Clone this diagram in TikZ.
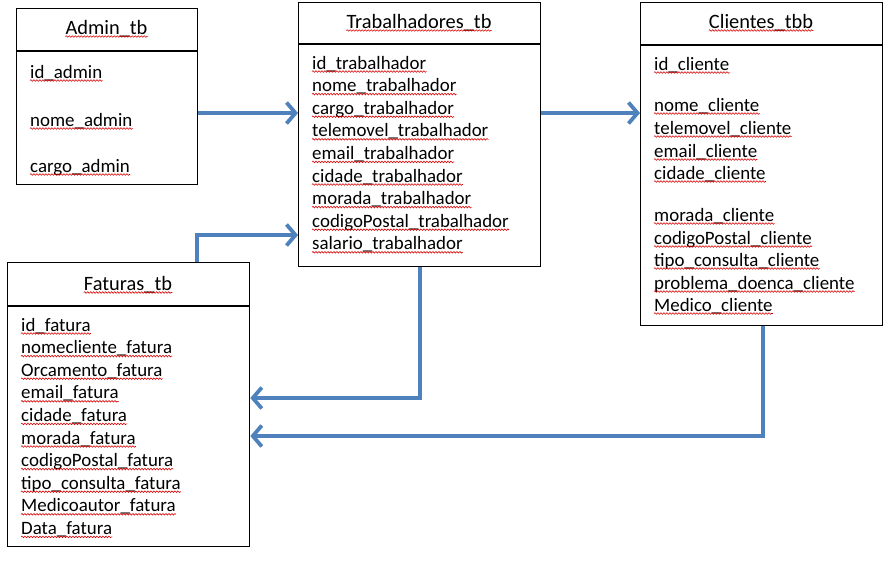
\documentclass[tikz,border=0pt]{standalone}
\usepackage{fontspec}
\setmainfont{Carlito}
\usetikzlibrary{arrows.meta,decorations.pathmorphing}

\definecolor{setaazul}{RGB}{79,129,189}
\newcommand\letra{\fontsize{18.9}{22}\selectfont}
\newcommand\letratit{\fontsize{20.4}{24}\selectfont}
\newcommand\sublinha[1]{\draw[ondinha] ([yshift=-2.5pt]#1.base west) -- ([yshift=-2.5pt]#1.base east);}

\begin{document}
\begin{tikzpicture}[x=1pt, y=-1pt,
    tabela/.style={draw, line width=1.3pt, inner sep=0pt, anchor=north west},
    titulo/.style={anchor=base, inner sep=0pt, font=\letratit},
    campo/.style={anchor=base west, inner sep=0pt, font=\letra},
    seta/.style={draw=setaazul, line width=4.5pt, -{Straight Barb[length=9pt,width=21pt,line width=3.8pt]}},
    ondinha/.style={draw=red!85!black, line width=0.6pt, decorate,
        decoration={snake, segment length=3pt, amplitude=0.8pt}}]
    \useasboundingbox (0,0) rectangle (892,566);

    % Tables
    \node[tabela, minimum width=181pt, minimum height=176pt] (adm) at (16,8) {};
    \node[tabela, minimum width=242pt, minimum height=264pt] (trab) at (298,2) {};
    \node[tabela, minimum width=242pt, minimum height=323pt] (cli) at (640,2) {};
    \node[tabela, minimum width=242pt, minimum height=284pt] (fat) at (7,262) {};

    % Title bars
    \draw[line width=2pt] (adm.west |- 0,51) -- (adm.east |- 0,51);
    \draw[line width=1.3pt] (trab.west |- 0,44) -- (trab.east |- 0,44);
    \draw[line width=1.3pt] (cli.west |- 0,45) -- (cli.east |- 0,45);
    \draw[line width=2pt] (fat.west |- 0,306) -- (fat.east |- 0,306);

    \node[titulo] (adm-t) at (106.5,34) {Admin\_tb};
    \node[titulo] (trab-t) at (419,28) {Trabalhadores\_tb};
    \node[titulo] (cli-t) at (761,28) {Clientes\_tbb};
    \node[titulo] (fat-t) at (128,290) {Faturas\_tb};
    \foreach \t in {adm-t, trab-t, cli-t, fat-t} {
        \sublinha{\t}
    }

    % Fields
    \foreach \txt/\yb [count=\i] in {id\_admin/78, nome\_admin/126, cargo\_admin/172} {
        \node[campo] (adm-\i) at (30,\yb) {\txt};
        \sublinha{adm-\i}
    }
    \foreach \txt [count=\i] in {id\_trabalhador, nome\_trabalhador, cargo\_trabalhador,
        telemovel\_trabalhador, email\_trabalhador, cidade\_trabalhador,
        morada\_trabalhador, codigoPostal\_trabalhador, salario\_trabalhador} {
        \node[campo] (trab-\i) at (312,{69+22.6*(\i-1)}) {\txt};
        \sublinha{trab-\i}
    }
    \foreach \txt/\yb [count=\i] in {id\_cliente/70, nome\_cliente/111,
        telemovel\_cliente/134, email\_cliente/157, cidade\_cliente/179,
        morada\_cliente/221, codigoPostal\_cliente/244, tipo\_consulta\_cliente/266,
        problema\_doenca\_cliente/289, Medico\_cliente/311} {
        \node[campo] (cli-\i) at (654,\yb) {\txt};
        \sublinha{cli-\i}
    }
    \foreach \txt [count=\i] in {id\_fatura, nomecliente\_fatura, Orcamento\_fatura,
        email\_fatura, cidade\_fatura, morada\_fatura, codigoPostal\_fatura,
        tipo\_consulta\_fatura, Medicoautor\_fatura, Data\_fatura} {
        \node[campo] (fat-\i) at (21,{331+22.6*(\i-1)}) {\txt};
        \sublinha{fat-\i}
    }

    % Relations
    \draw[seta] (adm.east |- 0,113) -- (trab.west |- 0,113);
    \draw[seta] (fat.north -| 197,0) |- (trab.west |- 0,235);
    \draw[seta] (trab.east |- 0,113) -- (cli.west |- 0,113);
    \draw[seta] (trab.south -| 420,0) |- (fat.east |- 0,398);
    \draw[seta] (cli.south -| 763,0) |- (fat.east |- 0,436);
\end{tikzpicture}
\end{document}
